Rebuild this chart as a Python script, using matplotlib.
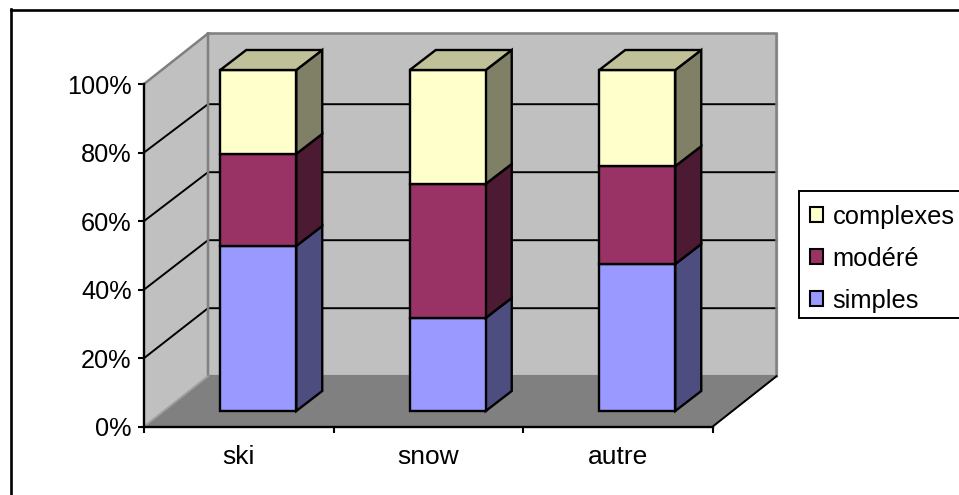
import matplotlib
matplotlib.use('Agg')
import matplotlib.pyplot as plt
from matplotlib.lines import Line2D
from matplotlib.patches import Patch, Rectangle

plt.rcParams['font.family'] = ['Liberation Sans', 'DejaVu Sans']

# Data (percent of each bar)
categories = ['ski', 'snow', 'autre']
simples = [48.4, 27.3, 43.1]
modere = [27.0, 39.3, 28.7]
complexes = [24.6, 33.4, 28.2]
series_names = ['simples', 'modéré', 'complexes']
y_ticks = [0, 20, 40, 60, 80, 100]

# front and side colours of each series
colors = {
    'simples': ('#9999FF', '#4D4D80'),
    'modéré': ('#993366', '#4D1A33'),
    'complexes': ('#FFFFCC', '#808066'),
}
top_color = '#C0C099'

W, H = 959, 495
fig = plt.figure(figsize=(W / 100, H / 100), dpi=100)

# axes = front plane of the fake 3D box
left, right, bottom, top = 144, 712.5, 426.7, 84
ax = fig.add_axes([left / W, 1 - bottom / H, (right - left) / W, (bottom - top) / H])
ax.set_xlim(0, 3)
ax.set_ylim(0, 100)
ax.patch.set_visible(False)

px_x = (right - left) / 3
px_y = (bottom - top) / 100

# depth of box and bars, in data units
box_dx, box_dy = 64 / px_x, 50.5 / px_y
bar_dx, bar_dy = 26 / px_x, 20 / px_y
bar_w = 76 / px_x
shift_x, shift_y = 19.5 / px_x, 15.7 / px_y
# the back wall and the bars come out a little shorter than the front axis
back_scale = 340 / 342.7
bar_scale = 341 / 342.7

WALL = '#C0C0C0'
EDGE = '#808080'

# left wall, back wall, floor
ax.fill([0, box_dx, box_dx, 0], [0, box_dy, 100 + box_dy, 100], color=WALL, zorder=1, clip_on=False)
ax.fill([box_dx, 3 + box_dx, 3 + box_dx, box_dx], [box_dy, box_dy, 100 + box_dy, 100 + box_dy],
        color=WALL, zorder=1, clip_on=False)
ax.fill([0, 3, 3 + box_dx, box_dx], [0, 0, box_dy, box_dy], color=EDGE, zorder=1, clip_on=False)

# gridlines
for v in y_ticks[1:-1]:
    back_y = box_dy + v * back_scale
    ax.plot([0, box_dx, 3 + box_dx], [v, back_y, back_y], color='black', lw=1.4, zorder=2, clip_on=False)

# wall edges
edge_kw = dict(color=EDGE, lw=1.8, zorder=3, clip_on=False, solid_joinstyle='miter')
ax.plot([0, box_dx, 3 + box_dx, 3 + box_dx, box_dx, box_dx],
        [100, 100 + box_dy, 100 + box_dy, box_dy, box_dy, 100 + box_dy], **edge_kw)
ax.plot([0, box_dx], [0, box_dy], color='#A0A0A0', lw=1.3, zorder=3, clip_on=False)
ax.plot([3, 3 + box_dx], [0, box_dy], color='black', lw=1.4, zorder=3, clip_on=False)

# bars
line_kw = dict(edgecolor='black', linewidth=1.7, joinstyle='miter', clip_on=False, zorder=4)
for i, cat in enumerate(categories):
    x0 = i + 0.5 + shift_x - bar_w / 2
    x1 = x0 + bar_w
    base = shift_y
    for name, vals in zip(series_names, [simples, modere, complexes]):
        front, side = colors[name]
        y0, y1 = base, base + vals[i] * bar_scale
        ax.fill([x1, x1 + bar_dx, x1 + bar_dx, x1], [y0, y0 + bar_dy, y1 + bar_dy, y1], facecolor=side, **line_kw)
        ax.fill([x0, x1, x1, x0], [y0, y0, y1, y1], facecolor=front, **line_kw)
        base = y1
    ax.fill([x0, x1, x1 + bar_dx, x0 + bar_dx], [base, base, base + bar_dy, base + bar_dy],
            facecolor=top_color, **line_kw)

# axes
for s in ['top', 'right']:
    ax.spines[s].set_visible(False)
for s in ['left', 'bottom']:
    ax.spines[s].set_linewidth(1.7)
    ax.spines[s].set_zorder(5)
ax.set_yticks(y_ticks)
ax.set_yticklabels([f'{v}%' for v in y_ticks], fontsize=18.2)
ax.set_xticks([0, 1, 2, 3])
ax.set_xticklabels([])
ax.set_xticks([0.5, 1.5, 2.5], minor=True)
ax.set_xticklabels(categories, minor=True, fontsize=19)
ax.tick_params(axis='both', which='major', length=4, width=1.5, color='black')
ax.tick_params(axis='y', pad=5)
ax.tick_params(axis='x', which='minor', length=0, pad=13)

# legend frame drawn apart, it runs off the right edge like the original
fig.add_artist(Rectangle((799 / W, 1 - 317.5 / H), 170 / W, 126.5 / H, transform=fig.transFigure,
                         facecolor='white', edgecolor='black', linewidth=1.4))
handles = [Patch(facecolor=colors[n][0], edgecolor='black', linewidth=1.5) for n in reversed(series_names)]
leg = fig.legend(handles, list(reversed(series_names)), loc='upper left',
                 bbox_to_anchor=(799 / W, 1 - 194 / H), bbox_transform=fig.transFigure,
                 fontsize=18.4, frameon=False,
                 handlelength=0.5, handleheight=0.5, handletextpad=0.4,
                 labelspacing=0.7, borderpad=0.42, borderaxespad=0)

# chart-area border, only top and left are inside the image
for xs, ys in [([10.5, 10.5], [9, H]), ([10.5, W], [9.5, 9.5])]:
    fig.add_artist(Line2D([x / W for x in xs], [1 - y / H for y in ys], color='black', lw=1.9,
                          solid_capstyle='projecting'))

fig.savefig('out.png', dpi=100)
